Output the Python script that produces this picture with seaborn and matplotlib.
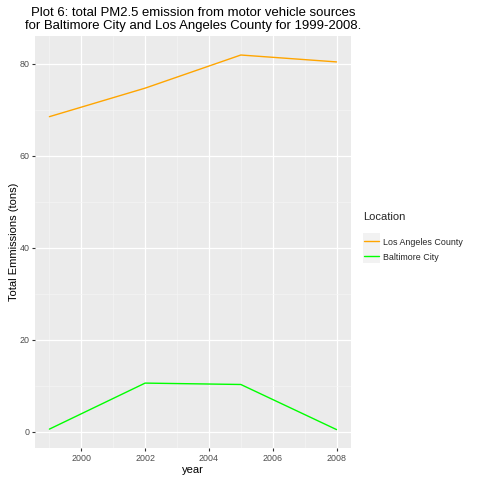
import pandas as pd
import seaborn as sns
import matplotlib.pyplot as plt
from matplotlib.patches import Rectangle
from matplotlib.lines import Line2D
from matplotlib.ticker import MultipleLocator

years = [1999, 2002, 2005, 2008]
la_county = [68.5, 74.7, 81.9, 80.4]
baltimore = [0.6, 10.6, 10.3, 0.5]
locations = ['Los Angeles County', 'Baltimore City']
colors = {'Los Angeles County': '#FFA500', 'Baltimore City': '#00FF00'}

df = pd.DataFrame({
    'year': years * 2,
    'Emissions': la_county + baltimore,
    'Location': ['Los Angeles County'] * 4 + ['Baltimore City'] * 4,
})


# legend key like ggplot: grey square with a line through it
class KeyHandler:
    def legend_artist(self, legend, orig_handle, fontsize, handlebox):
        x0, y0 = -handlebox.xdescent, -handlebox.ydescent
        w = handlebox.width
        h = handlebox.height + handlebox.ydescent
        tr = handlebox.get_transform()
        rect = Rectangle((x0, y0), w, h, facecolor='#F2F2F2', edgecolor='none',
                         transform=tr)
        handlebox.add_artist(rect)
        line = Line2D([x0 + 1, x0 + w - 1], [y0 + h / 2, y0 + h / 2],
                      color=orig_handle.get_color(), linewidth=1.0, transform=tr)
        handlebox.add_artist(line)
        return line


sns.set_style('darkgrid', {'axes.facecolor': '#EBEBEB'})
plt.rcParams['font.family'] = ['Liberation Sans', 'DejaVu Sans']

fig = plt.figure(figsize=(4.8, 4.8), dpi=100)
ax = fig.add_axes([0.073, 0.0667, 0.658, 0.858])

sns.lineplot(data=df, x='year', y='Emissions', hue='Location',
             hue_order=locations, palette=colors, linewidth=1.0, ax=ax,
             legend=False)

ax.set_xlim(1998.55, 2008.45)
ax.set_ylim(-3.5, 86.0)
ax.xaxis.set_major_locator(MultipleLocator(2))
ax.xaxis.set_minor_locator(MultipleLocator(1))
ax.yaxis.set_major_locator(MultipleLocator(20))
ax.yaxis.set_minor_locator(MultipleLocator(10))
ax.grid(which='major', color='white', linewidth=0.9)
ax.grid(which='minor', color='#F5F5F5', linewidth=0.45)
ax.set_axisbelow(True)
for s in ax.spines.values():
    s.set_visible(False)

ax.tick_params(which='major', length=2, width=0.8, color='#333333',
               labelcolor='#4D4D4D', labelsize=6.4, pad=2, bottom=True, left=True)
ax.tick_params(which='minor', length=0, bottom=False, left=False)

ax.set_xlabel('year', fontsize=8, color='black', labelpad=2)
ax.set_ylabel('Total Emmissions (tons)', fontsize=8, color='black', labelpad=0)
ax.set_title('Plot 6: total PM2.5 emission from motor vehicle sources\n'
             'for Baltimore City and Los Angeles County for 1999-2008.',
             fontsize=9.45, color='black', pad=5, linespacing=1.1)

handles = [Line2D([], [], color=colors[loc]) for loc in locations]
fig.text(363 / 480, 1 - 217 / 480, 'Location', fontsize=8, va='center', ha='left')
fig.legend(handles, locations, loc='upper left',
           bbox_to_anchor=(363 / 480, 1 - 236.5 / 480), frameon=False,
           handler_map={Line2D: KeyHandler()}, fontsize=6.4,
           handlelength=1.9, handleheight=1.7, handletextpad=0.35,
           labelspacing=0.3, borderpad=0, borderaxespad=0)

fig.savefig('out.png', dpi=100)
